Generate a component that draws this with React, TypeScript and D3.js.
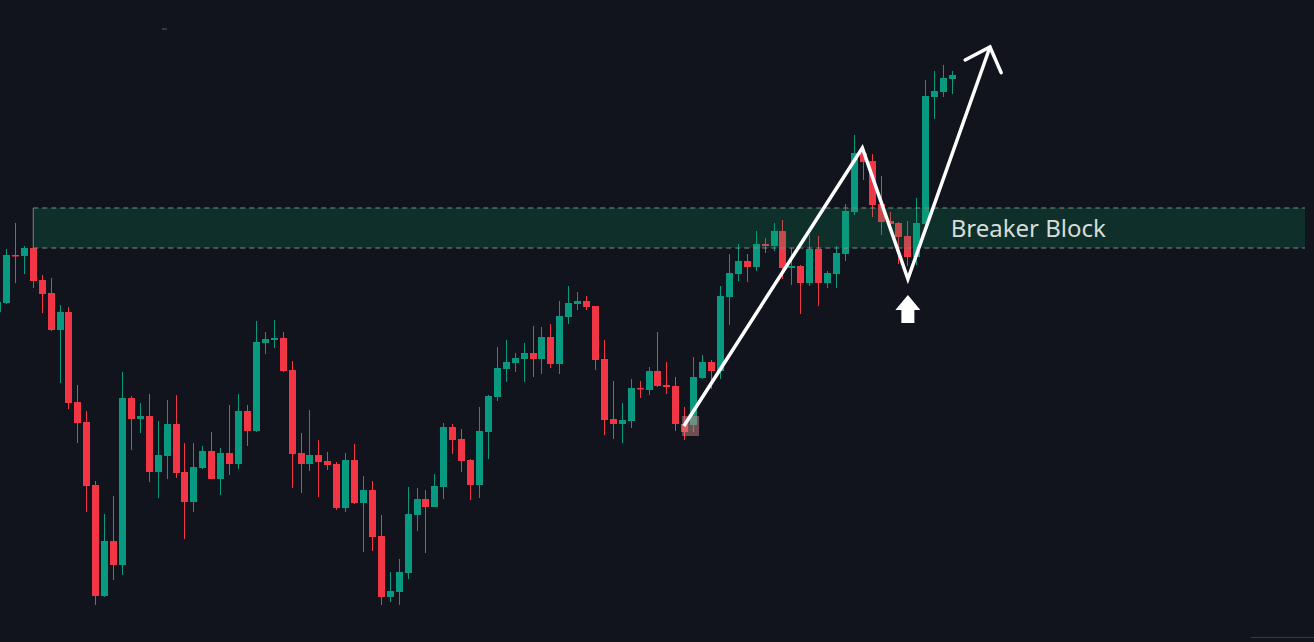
import React from "react";
import * as d3 from "d3";

const W = 1314;
const H = 642;

// candle index (first partially visible candle is -1)
const startIndex = -1;
// OHLC prices (points)
const opens = [328,337,385,384,392,360,347,310,328,238,218,155,44,99,75,242,221,224,168,184,216,168,138,172,189,161,187,176,229,209,297,300,302,270,187,176,185,179,176,132,180,137,150,104,43,48,67,125,141,133,153,213,201,180,155,208,243,271,277,281,287,281,303,276,323,336,339,334,281,221,216,219,252,250,269,255,254,216,215,262,278,269,343,366,379,373,396,394,409,372,374,357,391,357,366,386,428,487,479,436,419,417,404,383,416,543,548,561];
const highs = [340,391,417,394,392,365,362,335,333,255,229,159,126,144,268,244,237,246,219,240,245,197,197,194,208,192,235,246,235,319,308,320,308,279,207,230,200,188,178,187,196,164,159,125,68,81,153,152,150,166,217,216,211,181,233,245,293,300,287,297,314,313,316,339,354,348,344,334,300,259,237,261,259,273,308,278,263,233,283,285,280,354,386,396,386,409,402,417,420,392,375,405,404,369,394,436,505,493,486,464,428,418,419,442,560,569,575,569];
const lows = [327,336,357,366,352,327,309,257,231,197,128,35,43,60,65,190,207,158,142,161,162,101,128,171,161,145,165,171,194,208,286,292,268,152,147,169,143,170,130,128,136,88,89,35,38,35,61,109,87,133,141,186,168,140,142,181,239,258,268,258,263,266,272,266,316,330,330,270,205,201,197,212,242,245,253,246,209,200,208,261,251,261,315,359,358,369,387,389,361,355,326,354,334,352,352,379,425,460,423,405,415,376,374,375,414,521,543,546];
const closes = [338,385,384,392,359,346,310,328,237,217,154,44,99,75,242,221,224,168,185,216,167,138,173,189,161,187,176,229,209,298,301,302,269,186,176,185,178,175,132,180,137,150,103,43,49,68,126,141,133,154,213,200,179,155,209,244,272,278,282,287,281,303,276,324,337,339,333,280,220,216,220,252,251,269,254,253,216,208,263,278,269,344,367,379,373,396,394,409,372,374,357,391,357,367,387,429,487,478,435,418,416,403,383,417,544,549,562,565];

// Breaker block zone (index range, price range)
const zoneStart = 3;
const zoneEnd = 145.5;
const zoneTop = 432;
const zoneBottom = 392;
const zoneLabel = "Breaker Block";

// zigzag projection path (index, price)
const pathIdx = [75.9, 95.9, 101.0, 110.2];
const pathPrice = [214, 492, 361, 593];

// up-arrow marker (index, price of tip)
const markerIdx = 101.0;
const markerPrice = 345;

// highlight box on the origin candles (index, price)
const boxIdx = [75.7, 77.6];
const boxPrice = [224, 204];

const BG = "#11141c";
const UP = "#089981";
const DOWN = "#f23645";

export default function App() {
  const x = d3.scaleLinear().domain([0, 106]).range([6.5, 952.5]);
  const y = d3.scaleLinear().domain([0, 640]).range([640, 0]);

  const candles = opens.map((o, i) => ({
    i: startIndex + i,
    o,
    h: highs[i],
    l: lows[i],
    c: closes[i],
  }));

  const line = d3
    .line<number>()
    .x((_, k) => x(pathIdx[k]))
    .y((_, k) => y(pathPrice[k]));

  const n = pathIdx.length;
  const tx = x(pathIdx[n - 1]);
  const ty = y(pathPrice[n - 1]);
  const px = x(pathIdx[n - 2]);
  const py = y(pathPrice[n - 2]);
  const ang = Math.atan2(py - ty, px - tx);
  const wing = 28;
  const spread = (43 * Math.PI) / 180;
  const w1 = [tx + wing * Math.cos(ang + spread), ty + wing * Math.sin(ang + spread)];
  const w2 = [tx + wing * Math.cos(ang - spread), ty + wing * Math.sin(ang - spread)];

  const mx = x(markerIdx);
  const my = y(markerPrice);
  const arrowPath = `M${mx},${my} L${mx + 12.5},${my + 15} L${mx + 6.5},${my + 15} L${mx + 6.5},${my + 28} L${mx - 6.5},${my + 28} L${mx - 6.5},${my + 15} L${mx - 12.5},${my + 15} Z`;

  const zx0 = x(zoneStart);
  const zx1 = x(zoneEnd);
  const zy0 = y(zoneTop);
  const zy1 = y(zoneBottom);

  return (
    <div style={{ position: "fixed", left: 0, top: 0, width: W, height: H, background: BG }}>
      <svg width={W} height={H} style={{ display: "block" }}>
        <rect x={0} y={0} width={W} height={H} fill={BG} />
        {candles.map((d) => {
          const cx = x(d.i);
          const col = d.c >= d.o ? UP : DOWN;
          const bx = Math.round(cx - 3.5);
          const top = Math.min(y(d.o), y(d.c));
          const bh = Math.max(1.5, Math.abs(y(d.o) - y(d.c)));
          return (
            <g key={d.i}>
              <rect x={bx + 3} y={y(d.h)} width={1} height={y(d.l) - y(d.h)} fill={col} />
              <rect x={bx} y={top} width={7} height={bh} fill={col} />
            </g>
          );
        })}
        <rect
          x={x(boxIdx[0])}
          y={y(boxPrice[0])}
          width={x(boxIdx[1]) - x(boxIdx[0])}
          height={y(boxPrice[1]) - y(boxPrice[0])}
          fill="#d08a8a"
          opacity={0.5}
        />
        <rect x={zx0} y={zy0} width={zx1 - zx0} height={zy1 - zy0} fill="#08a064" fillOpacity={0.2} />
        <line x1={zx0} x2={zx1} y1={zy0} y2={zy0} stroke="#7d8a86" strokeWidth={1} strokeDasharray="5,4" />
        <line x1={zx0} x2={zx1} y1={zy1} y2={zy1} stroke="#7d8a86" strokeWidth={1} strokeDasharray="5,4" />
        <line x1={zx0} x2={zx0} y1={zy0} y2={zy1} stroke="#8a7f80" strokeWidth={1} />
        <text
          x={x(105.8)}
          y={y(zoneBottom) - 11}
          fill="#d8dcd9"
          fontFamily="'Noto Sans', 'Open Sans', sans-serif"
          fontSize={24}
        >
          {zoneLabel}
        </text>
        <path d={line(pathIdx) || ""} fill="none" stroke="#ffffff" strokeWidth={3.5} strokeLinejoin="miter" />
        <path
          d={`M${w1[0]},${w1[1]} L${tx},${ty} L${w2[0]},${w2[1]}`}
          fill="none"
          stroke="#ffffff"
          strokeWidth={3.5}
          strokeLinecap="round"
        />
        <path d={arrowPath} fill="#ffffff" />
        <line x1={162} x2={167} y1={29} y2={29} stroke="#5a5f66" strokeWidth={1} />
        <line x1={1251} x2={W} y1={637.5} y2={637.5} stroke="#3b3a2e" strokeWidth={1} />
      </svg>
    </div>
  );
}
